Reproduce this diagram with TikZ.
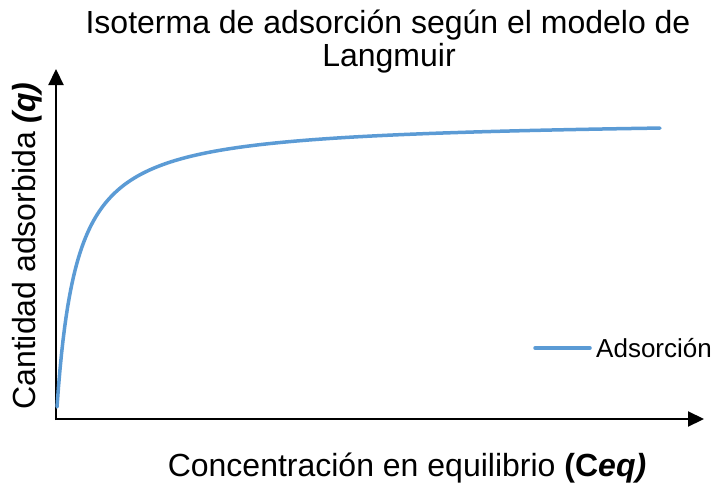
\documentclass[tikz,border=0pt]{standalone}
\usepackage{fontspec}
\setmainfont{Liberation Sans}
\usetikzlibrary{arrows.meta}
\definecolor{curveblue}{HTML}{5B9BD5}
\begin{document}
\begin{tikzpicture}[x=1pt,y=-1pt,
  axisline/.style={line width=2.2pt,-{Triangle[width=15pt,length=16pt]}},
  curveline/.style={curveblue,line width=3.5pt,line cap=round,line join=round},
  bigtext/.style={font=\fontsize{32}{34}\selectfont,inner sep=0pt},
  legtext/.style={font=\fontsize{26}{28}\selectfont,inner sep=0pt}]
\useasboundingbox (0,0) rectangle (716,488);
\fill[white] (0,0) rectangle (716,488);
\coordinate (origin) at (56,419);
\coordinate (ytip) at (56,69);
\coordinate (xtip) at (704,419);
\draw[axisline] ([yshift=-1.1pt]origin) -- (ytip);
\draw[axisline] ([xshift=-1.1pt]origin) -- (xtip);
\draw[curveline] plot[domain=0:603, samples=400] ({57+\x}, {407-288.2*0.05*\x/(1+0.05*\x)});
\coordinate (legA) at (535,348);
\coordinate (legB) at (590,348);
\draw[curveline] (legA) -- (legB);
\node[legtext,anchor=west] (legend) at (596,348) {Adsorción};
\node[bigtext,anchor=base] (title1) at (388,33) {Isoterma de adsorción según el modelo de};
\node[bigtext,anchor=base] (title2) at (389,66) {Langmuir};
\node[bigtext,anchor=base] (xlabel) at (407,476) {Concentración en equilibrio \textbf{(C\textit{eq)}}};
\node[bigtext,anchor=base,rotate=90] (ylabel) at (35,246) {Cantidad adsorbida \textbf{\textit{(q)}}};
\end{tikzpicture}
\end{document}
